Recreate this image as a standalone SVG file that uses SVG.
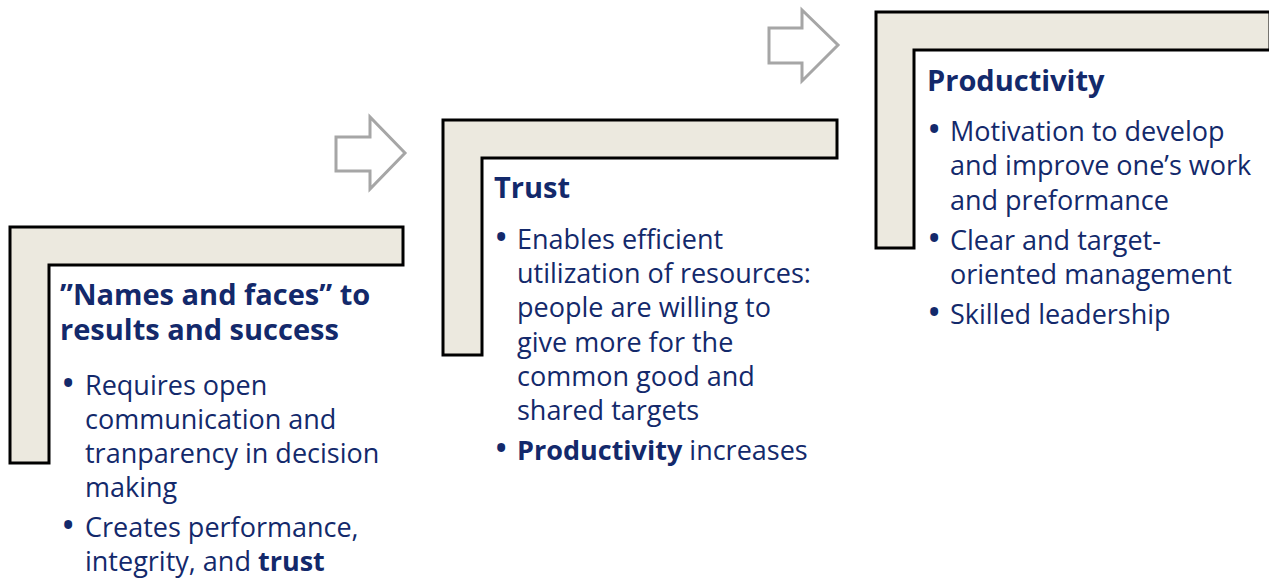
<svg xmlns="http://www.w3.org/2000/svg" width="1269" height="578" viewBox="0 0 1269 578">
<style>
.frame{fill:#ECE9DF;stroke:#000;stroke-width:3;stroke-linejoin:miter}
.arrow{fill:#fff;stroke:#A6A6A6;stroke-width:3}
.t{font-family:"Open Sans",Lato,sans-serif;fill:#13296B}
.h{font-size:29px;font-weight:700}
.b{font-size:27px}
.bold{font-weight:700}
.dot{font-size:38px}
</style>
<rect width="1269" height="578" fill="#fff"/>
<g id="connectors">
<polygon class="arrow" points="336,137 370,137 370,117 405,153 370,189 370,171 336,171"/>
<polygon class="arrow" points="769,28 802,28 802,10 838,45 802,81 802,63 769,63"/>
</g>
<g id="node1">
<path class="frame" d="M10,227 H403 V265 H49 V463 H10 Z"/>
<text class="t h"><tspan x="60" y="305">”Names and faces” to</tspan><tspan x="60" y="340">results and success</tspan></text>
<text class="t b"><tspan class="dot" x="61" y="397">•</tspan><tspan x="85" y="395">Requires open</tspan><tspan x="85" y="429">communication and</tspan><tspan x="85" y="463">tranparency in decision</tspan><tspan x="85" y="497">making</tspan><tspan class="dot" x="61" y="539">•</tspan><tspan x="85" y="537">Creates performance,</tspan><tspan x="85" y="571">integrity, and <tspan class="bold">trust</tspan></tspan></text>
</g>
<g id="node2">
<path class="frame" d="M443,120 H837 V158 H482 V355 H443 Z"/>
<text class="t h" x="494" y="198">Trust</text>
<text class="t b"><tspan class="dot" x="494" y="251">•</tspan><tspan x="517" y="249">Enables efficient</tspan><tspan x="517" y="283">utilization of resources:</tspan><tspan x="517" y="317">people are willing to</tspan><tspan x="517" y="352">give more for the</tspan><tspan x="517" y="386">common good and</tspan><tspan x="517" y="420">shared targets</tspan><tspan class="dot" x="494" y="462">•</tspan><tspan x="517" y="460" class="bold">Productivity</tspan><tspan> increases</tspan></text>
</g>
<g id="node3">
<path class="frame" d="M876,12 H1270 V50 H914 V248 H876 Z"/>
<text class="t h" x="927" y="91">Productivity</text>
<text class="t b"><tspan class="dot" x="927" y="143">•</tspan><tspan x="950" y="141">Motivation to develop</tspan><tspan x="950" y="175">and improve one’s work</tspan><tspan x="950" y="210">and preformance</tspan><tspan class="dot" x="927" y="252">•</tspan><tspan x="950" y="250">Clear and target-</tspan><tspan x="950" y="284">oriented management</tspan><tspan class="dot" x="927" y="326">•</tspan><tspan x="950" y="324">Skilled leadership</tspan></text>
</g>
</svg>
